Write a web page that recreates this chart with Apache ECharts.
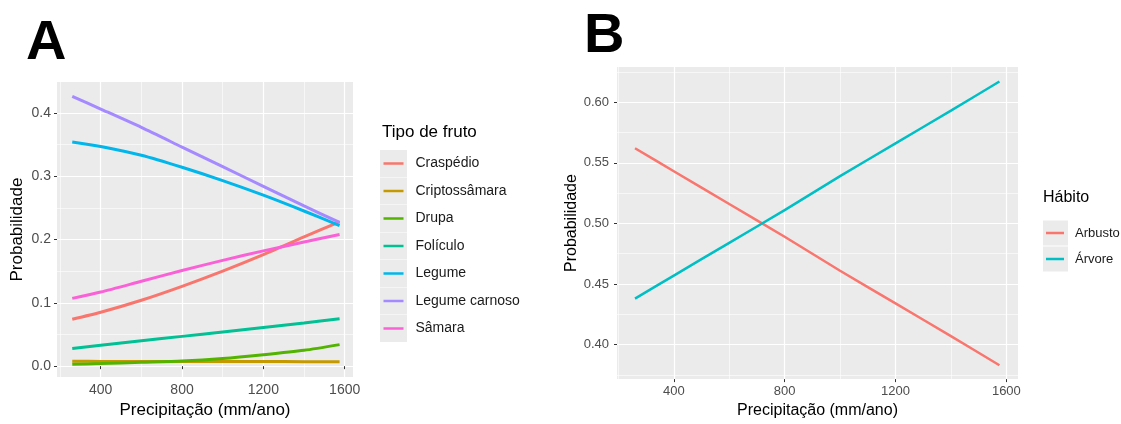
<!DOCTYPE html>
<html>
<head>
<meta charset="utf-8">
<script src="https://cdn.jsdelivr.net/npm/echarts@6/dist/echarts.min.js"></script>
<style>
  html, body { margin: 0; padding: 0; background: #fff; }
  #chart-container { width: 1121px; height: 424px; }
</style>
</head>
<body>
<div id="chart-container"></div>
<script>
var dom = document.getElementById('chart-container');
var myChart = echarts.init(dom, null, { renderer: 'canvas' });

// precipitation (mm/ano) where the curves were read
var precip = [260, 400, 600, 800, 1000, 1200, 1400, 1575];

// panel A - tipo de fruto
var frutoNames = ['Craspédio', 'Criptossâmara', 'Drupa', 'Folículo', 'Legume', 'Legume carnoso', 'Sâmara'];
var craspedio = [0.074, 0.085, 0.104, 0.126, 0.150, 0.176, 0.204, 0.228];
var criptossamara = [0.0076, 0.0075, 0.0074, 0.0073, 0.0072, 0.0072, 0.0071, 0.0070];
var drupa = [0.003, 0.004, 0.006, 0.008, 0.012, 0.018, 0.025, 0.034];
var foliculo = [0.028, 0.033, 0.040, 0.047, 0.054, 0.061, 0.068, 0.075];
var legume = [0.354, 0.347, 0.333, 0.314, 0.293, 0.270, 0.245, 0.222];
var legumeCarnoso = [0.426, 0.406, 0.377, 0.346, 0.315, 0.284, 0.253, 0.227];
var samara = [0.107, 0.117, 0.134, 0.151, 0.167, 0.182, 0.196, 0.208];
var frutoValues = [craspedio, criptossamara, drupa, foliculo, legume, legumeCarnoso, samara];
var frutoColors = ['#F8766D', '#C49A00', '#53B400', '#00C094', '#00B6EB', '#A58AFF', '#FB61D7'];

// panel B - habito
var habitoNames = ['Arbusto', 'Árvore'];
var arbusto = [0.562, 0.543, 0.516, 0.489, 0.461, 0.434, 0.407, 0.383];
var arvore = [0.438, 0.457, 0.484, 0.511, 0.539, 0.566, 0.593, 0.617];
var habitoValues = [arbusto, arvore];
var habitoColors = ['#F8766D', '#00BFC4'];

var FONT = 'Liberation Sans, Arial, sans-serif';

function pairs(ys) {
  return precip.map(function (x, i) { return [x, ys[i]]; });
}

function isStep(v, step) {
  var k = v / step;
  return Math.abs(k - Math.round(k)) < 1e-6;
}

function ggAxis(opt) {
  return {
    type: 'value',
    gridIndex: opt.grid,
    min: opt.min,
    max: opt.max,
    minInterval: opt.step,
    maxInterval: opt.step,
    name: opt.name,
    nameLocation: 'middle',
    nameGap: opt.nameGap,
    nameTextStyle: { color: '#000', fontSize: opt.nameSize, fontFamily: FONT },
    axisLine: { show: false },
    axisTick: { show: true, length: 3, lineStyle: { color: '#333', width: 1 } },
    axisLabel: {
      color: '#4D4D4D',
      fontSize: opt.labelSize,
      fontFamily: FONT,
      margin: opt.margin,
      showMinLabel: false,
      showMaxLabel: false,
      formatter: function (v) {
        return isStep(v, opt.step) ? v.toFixed(opt.digits) : '';
      }
    },
    splitLine: { show: true, showMinLine: false, showMaxLine: false, lineStyle: { color: '#fff', width: 1.2 } },
    minorTick: { show: false, splitNumber: 2 },
    minorSplitLine: { show: true, lineStyle: { color: '#fff', width: 0.6 } }
  };
}

var series = [];
frutoNames.forEach(function (n, i) {
  series.push({
    name: n, type: 'line', xAxisIndex: 0, yAxisIndex: 0,
    data: pairs(frutoValues[i]),
    symbol: 'none', smooth: 0.25,
    color: frutoColors[i],
    lineStyle: { width: 3, color: frutoColors[i] },
    emphasis: { disabled: true }
  });
});
habitoNames.forEach(function (n, i) {
  series.push({
    name: n, type: 'line', xAxisIndex: 1, yAxisIndex: 1,
    data: pairs(habitoValues[i]),
    symbol: 'none', smooth: 0.25,
    color: habitoColors[i],
    lineStyle: { width: 2.5, color: habitoColors[i] },
    emphasis: { disabled: true }
  });
});

// key line drawn inside a transparent box so it sits in the middle of the row
var keyA = 'path://M0,0L0.05,0L0.05,0.05Z M0,12.2L20,12.2L20,14.8L0,14.8Z M0,27L0.05,27L0.05,26.95Z';
var keyB = 'path://M0,0L0.05,0L0.05,0.05Z M0,11.3L18,11.3L18,13.7L0,13.7Z M0,25L0.05,25L0.05,24.95Z';

function keyBoxes(names, left, top, size, gap) {
  return {
    data: names, orient: 'vertical', left: left, top: top, padding: 0,
    itemWidth: size, itemHeight: size, itemGap: gap, icon: 'rect',
    selectedMode: false,
    itemStyle: { color: '#EBEBEB', borderWidth: 0, borderColor: '#EBEBEB' },
    formatter: function () { return ''; }
  };
}
function keyLines(names, left, top, w, h, icon, gap, fs, pad) {
  return {
    data: names, orient: 'vertical', left: left, top: top, padding: 0,
    itemWidth: w, itemHeight: h, itemGap: gap, icon: icon,
    selectedMode: false,
    itemStyle: { borderWidth: 0 },
    textStyle: { color: '#1A1A1A', fontSize: fs, fontFamily: FONT, padding: [0, 0, 0, pad] }
  };
}

option = {
  backgroundColor: '#fff',
  animation: false,
  title: [
    { text: 'A', left: 26, top: 16, padding: 0, textStyle: { fontSize: 56, fontWeight: 'bold', color: '#000', fontFamily: FONT } },
    { text: 'B', left: 584, top: 9, padding: 0, textStyle: { fontSize: 56, fontWeight: 'bold', color: '#000', fontFamily: FONT } },
    { text: 'Tipo de fruto', left: 382, top: 124, padding: 0, textStyle: { fontSize: 17, fontWeight: 'normal', color: '#000', fontFamily: FONT } },
    { text: 'Hábito', left: 1043, top: 190, padding: 0, textStyle: { fontSize: 16, fontWeight: 'normal', color: '#000', fontFamily: FONT } }
  ],
  legend: [
    keyBoxes(frutoNames, 380, 150, 27, 0.5),
    keyLines(frutoNames, 383.5, 150, 20, 27, keyA, 0.5, 14, 7),
    keyBoxes(habitoNames, 1043, 220.5, 25, 1),
    keyLines(habitoNames, 1046, 220.5, 18, 25, keyB, 1, 13, 6)
  ],
  grid: [
    { left: 57, top: 82, width: 296, height: 296, show: true, backgroundColor: '#EBEBEB', borderWidth: 0 },
    { left: 617, top: 67, width: 401, height: 315, show: true, backgroundColor: '#EBEBEB', borderWidth: 0 }
  ],
  xAxis: [
    ggAxis({ grid: 0, min: 185, max: 1641, step: 400, digits: 0, name: 'Precipitação (mm/ano)', nameGap: 24, nameSize: 17, labelSize: 14, margin: 6 }),
    ggAxis({ grid: 1, min: 195, max: 1642, step: 400, digits: 0, name: 'Precipitação (mm/ano)', nameGap: 23, nameSize: 16, labelSize: 13, margin: 6 })
  ],
  yAxis: [
    ggAxis({ grid: 0, min: -0.0173, max: 0.4487, step: 0.1, digits: 1, name: 'Probabilidade', nameGap: 31, nameSize: 17, labelSize: 14, margin: 6 }),
    ggAxis({ grid: 1, min: 0.3716, max: 0.629, step: 0.05, digits: 2, name: 'Probabilidade', nameGap: 37, nameSize: 16, labelSize: 13, margin: 8 })
  ],
  series: series
};

if (option && typeof option === 'object') {
  myChart.setOption(option);
}

window.addEventListener('resize', myChart.resize);
</script>
</body>
</html>
